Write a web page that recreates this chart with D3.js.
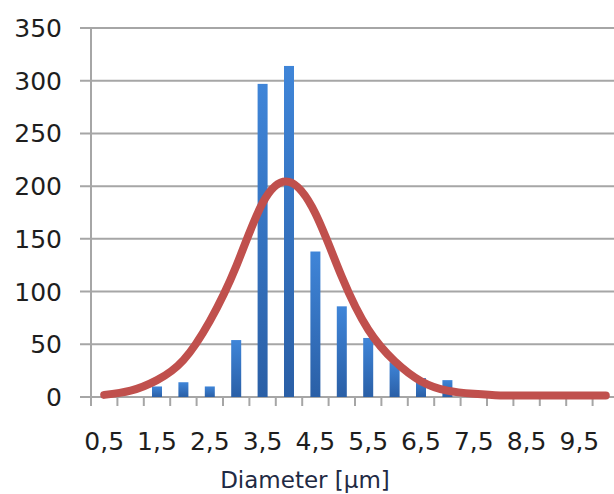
<!DOCTYPE html>
<html>
<head>
<meta charset="utf-8">
<script src="https://cdn.jsdelivr.net/npm/d3@7"></script>
<style>
  body { margin: 0; background: #fff; }
  svg { display: block; }
</style>
</head>
<body>
<div id="container"><svg></svg></div>
<script>
// diameter classes (µm), one per bar
const categories = [0.5, 1.0, 1.5, 2.0, 2.5, 3.0, 3.5, 4.0, 4.5, 5.0,
                    5.5, 6.0, 6.5, 7.0, 7.5, 8.0, 8.5, 9.0, 9.5, 10.0];
// counts per class
const counts = [0, 0, 10, 14, 10, 54, 297, 314, 138, 86,
                56, 33, 18, 16, 5, 0, 0, 0, 0, 0];
// fitted distribution (red line)
const fitted = [2, 6, 16, 35, 72, 124, 184, 204, 174, 114,
                64, 34, 15, 6, 3, 1.5, 1.5, 1.5, 1.5, 1.5];
const yTicks = [0, 50, 100, 150, 200, 250, 300, 350];

const width = 614, height = 494;
const plotLeft = 91, plotRight = 619, plotTop = 28, plotBottom = 397;

const svg = d3.select('#container').select('svg')
    .attr('width', width)
    .attr('height', height);

const x = d3.scaleBand()
    .domain(categories)
    .range([plotLeft, plotRight])
    .paddingInner(0)
    .paddingOuter(0);

const y = d3.scaleLinear()
    .domain([0, 350])
    .range([plotBottom, plotTop]);

const fmt = d => d.toFixed(1).replace('.', ',');

// gradient for bars
const defs = svg.append('defs');
const grad = defs.append('linearGradient')
    .attr('id', 'barGrad')
    .attr('x1', 0).attr('y1', 0).attr('x2', 0).attr('y2', 1);
grad.append('stop').attr('offset', '0%').attr('stop-color', '#3f85d8');
grad.append('stop').attr('offset', '100%').attr('stop-color', '#2a5fa6');

// gridlines + left ticks
svg.append('g')
    .selectAll('line')
    .data(yTicks)
    .join('line')
    .attr('x1', plotLeft - 11)
    .attr('x2', plotRight)
    .attr('y1', d => y(d))
    .attr('y2', d => y(d))
    .attr('stroke', '#a6a6a6')
    .attr('stroke-width', 2);

// left axis line
svg.append('line')
    .attr('x1', plotLeft).attr('x2', plotLeft)
    .attr('y1', plotTop).attr('y2', plotBottom + 9)
    .attr('stroke', '#a6a6a6')
    .attr('stroke-width', 2);

// bottom tick marks at class boundaries
svg.append('g')
    .selectAll('line')
    .data(categories)
    .join('line')
    .attr('x1', d => x(d) + x.step())
    .attr('x2', d => x(d) + x.step())
    .attr('y1', plotBottom)
    .attr('y2', plotBottom + 9)
    .attr('stroke', '#a6a6a6')
    .attr('stroke-width', 2);

// y labels
svg.append('g')
    .selectAll('text')
    .data(yTicks)
    .join('text')
    .attr('x', 62)
    .attr('y', d => y(d))
    .attr('dy', '0.36em')
    .attr('text-anchor', 'end')
    .attr('font-family', 'DejaVu Sans')
    .attr('font-size', 25)
    .attr('fill', '#1e1e1e')
    .text(d => d);

// x labels, every other class
svg.append('g')
    .selectAll('text')
    .data(categories.filter((d, i) => i % 2 === 0))
    .join('text')
    .attr('x', d => x(d) + x.bandwidth() / 2)
    .attr('y', 450)
    .attr('text-anchor', 'middle')
    .attr('font-family', 'DejaVu Sans')
    .attr('font-size', 25)
    .attr('fill', '#1e1e1e')
    .text(fmt);

// bars
const barW = 10;
svg.append('g')
    .selectAll('rect')
    .data(categories.map((c, i) => ({ c: c, v: counts[i] })).filter(d => d.v > 0))
    .join('rect')
    .attr('x', d => x(d.c) + x.bandwidth() / 2 - barW / 2)
    .attr('y', d => y(d.v))
    .attr('width', barW)
    .attr('height', d => y(0) - y(d.v))
    .attr('fill', 'url(#barGrad)');

// fitted curve
const line = d3.line()
    .x((d, i) => x(categories[i]) + x.bandwidth() / 2)
    .y(d => y(d))
    .curve(d3.curveNatural);

svg.append('path')
    .datum(fitted)
    .attr('d', line)
    .attr('fill', 'none')
    .attr('stroke', '#c0504d')
    .attr('stroke-width', 8)
    .attr('stroke-linecap', 'round')
    .attr('stroke-linejoin', 'round');

// axis title
svg.append('text')
    .attr('x', 305)
    .attr('y', 488)
    .attr('text-anchor', 'middle')
    .attr('font-family', 'DejaVu Sans')
    .attr('font-size', 23)
    .attr('fill', '#1f2a44')
    .text('Diameter [μm]');
</script>
</body>
</html>
